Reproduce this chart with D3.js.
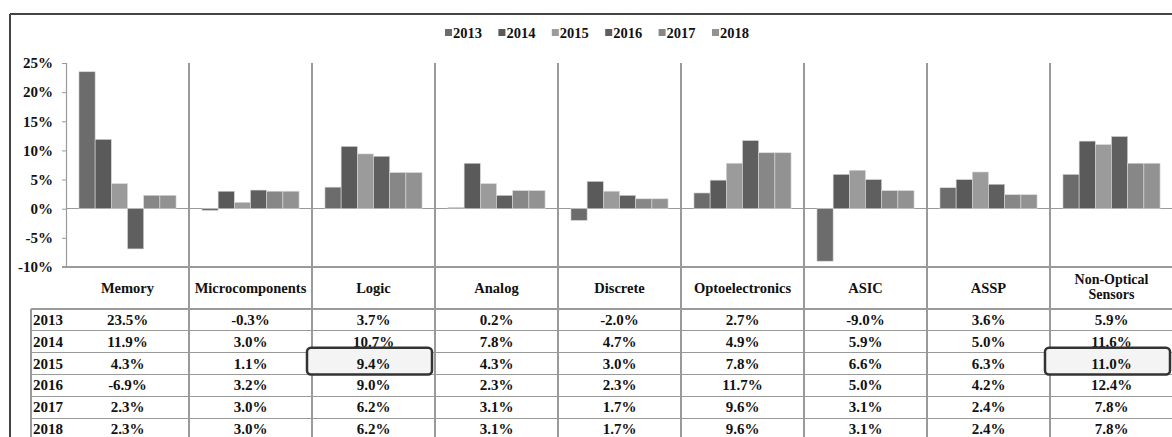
<!DOCTYPE html>
<html lang="en">
<head>
<meta charset="UTF-8">
<script src="https://cdn.jsdelivr.net/npm/d3@7"></script>
<style>
    body { margin: 0; background: #fff; }
    svg text { font-family: "Liberation Serif", "DejaVu Serif", "Times New Roman", serif !important; font-weight: bold; fill: #111; }
    .ytick text { font-size: 15px; }
    .hdr { font-size: 14.5px; }
    .cell { font-size: 15px; }
    .grid { stroke: #9a9a9a; stroke-width: 1.2; shape-rendering: crispEdges; }
</style>
</head>
<body>
<svg width="1172" height="437"></svg>
<script>
var categories = ["Memory", "Microcomponents", "Logic", "Analog", "Discrete", "Optoelectronics", "ASIC", "ASSP", "Non-Optical Sensors"];
var years = ["2013", "2014", "2015", "2016", "2017", "2018"];
var v2013 = [23.5, -0.3, 3.7, 0.2, -2.0, 2.7, -9.0, 3.6, 5.9];
var v2014 = [11.9, 3.0, 10.7, 7.8, 4.7, 4.9, 5.9, 5.0, 11.6];
var v2015 = [4.3, 1.1, 9.4, 4.3, 3.0, 7.8, 6.6, 6.3, 11.0];
var v2016 = [-6.9, 3.2, 9.0, 2.3, 2.3, 11.7, 5.0, 4.2, 12.4];
var v2017 = [2.3, 3.0, 6.2, 3.1, 1.7, 9.6, 3.1, 2.4, 7.8];
var v2018 = [2.3, 3.0, 6.2, 3.1, 1.7, 9.6, 3.1, 2.4, 7.8];
var yTicks = [-10, -5, 0, 5, 10, 15, 20, 25];
var colors = ["#6c6c6c", "#5a5a5a", "#9b9b9b", "#5f5f5f", "#878787", "#929292"];
var highlights = [{cat: "Logic", year: "2015"}, {cat: "Non-Optical Sensors", year: "2015"}];

var series = [v2013, v2014, v2015, v2016, v2017, v2018];
var svg = d3.select("svg");

// frame
svg.append("line").attr("x1", 10).attr("x2", 1172).attr("y1", 14).attr("y2", 14)
    .attr("stroke", "#444").attr("stroke-width", 2);
svg.append("line").attr("x1", 10).attr("x2", 10).attr("y1", 14).attr("y2", 437)
    .attr("stroke", "#444").attr("stroke-width", 2);

var x0 = d3.scaleBand().domain(categories).range([66, 1173]);
var x1 = d3.scaleBand().domain(years).range([0, x0.bandwidth()]).paddingOuter(0.8);
var y = d3.scaleLinear().domain([-10, 25]).range([267, 63]);
var rows = d3.scaleBand().domain(years).range([309, 440]);

// legend
var leg = svg.append("g").selectAll("g").data(years).enter().append("g")
    .attr("transform", function(d, i) { return "translate(" + (445 + i * 53.4) + ",33)"; });
leg.append("rect").attr("x", 0).attr("y", -4).attr("width", 7).attr("height", 7)
    .attr("fill", function(d, i) { return colors[i]; });
leg.append("text").attr("x", 8).attr("y", 5).style("font-size", "14.5px").text(function(d) { return d; });

// y axis
var yAxis = svg.append("g").attr("class", "ytick")
    .attr("transform", "translate(66,0)")
    .call(d3.axisLeft(y).tickValues(yTicks).tickSize(4).tickFormat(function(d) { return d + "%"; }));
yAxis.attr("font-family", null).attr("font-size", null);
yAxis.select(".domain").attr("stroke", "#9a9a9a").attr("stroke-width", 1.2);
yAxis.selectAll(".tick line").attr("stroke", "#9a9a9a");
yAxis.selectAll(".tick text").attr("x", -13).attr("fill", "#111");

// gridlines
svg.append("line").attr("class", "grid").attr("x1", 66).attr("x2", 1172).attr("y1", y(0)).attr("y2", y(0));
svg.append("line").attr("class", "grid").attr("x1", 62).attr("x2", 1172).attr("y1", y(-10)).attr("y2", y(-10));
svg.append("g").selectAll("line").data(categories).enter().append("line")
    .attr("class", "grid")
    .attr("x1", function(d) { return x0(d) + x0.bandwidth(); })
    .attr("x2", function(d) { return x0(d) + x0.bandwidth(); })
    .attr("y1", y(25)).attr("y2", 437);

// bars
var groups = svg.append("g").selectAll("g").data(categories).enter().append("g")
    .attr("transform", function(d) { return "translate(" + x0(d) + ",0)"; });
groups.selectAll("rect")
    .data(function(d, ci) { return years.map(function(yr, si) { return {year: yr, si: si, v: series[si][ci]}; }); })
    .enter().append("rect")
    .attr("x", function(d) { return x1(d.year); })
    .attr("width", x1.bandwidth())
    .attr("y", function(d) { return y(Math.max(0, d.v)); })
    .attr("height", function(d) { return Math.abs(y(d.v) - y(0)); })
    .attr("fill", function(d) { return colors[d.si]; })
    .attr("stroke", "#d8d8d8").attr("stroke-width", 0.6);

// table header
var hdr = svg.append("g").selectAll("text").data(categories).enter().append("text")
    .attr("class", "hdr")
    .attr("text-anchor", "middle")
    .attr("x", function(d) { return x0(d) + x0.bandwidth() / 2; })
    .attr("y", function(d) { return d === "Non-Optical Sensors" ? 284 : 293; });
hdr.each(function(d) {
    var t = d3.select(this);
    if (d === "Non-Optical Sensors") {
        t.style("font-size", "14px");
        t.append("tspan").attr("x", t.attr("x")).text("Non-Optical");
        t.append("tspan").attr("x", t.attr("x")).attr("dy", 15).text("Sensors");
    } else {
        t.text(d);
    }
});

// table rows
svg.append("g").selectAll("line").data(years).enter().append("line")
    .attr("class", "grid")
    .attr("x1", 31).attr("x2", 1172)
    .attr("y1", function(d) { return rows(d); }).attr("y2", function(d) { return rows(d); });
svg.append("line").attr("class", "grid").attr("x1", 31).attr("x2", 31).attr("y1", rows("2013")).attr("y2", 437);
svg.append("g").selectAll("text").data(years).enter().append("text")
    .attr("class", "cell")
    .attr("x", 33)
    .attr("y", function(d) { return rows(d) + rows.bandwidth() / 2 + 5; })
    .text(function(d) { return d; });

var cells = [];
years.forEach(function(yr, si) {
    categories.forEach(function(c, ci) { cells.push({year: yr, cat: c, v: series[si][ci]}); });
});
function cellText(sel) {
    sel.attr("class", "cell")
        .attr("text-anchor", "middle")
        .attr("x", function(d) { return x0(d.cat) + x0.bandwidth() / 2; })
        .attr("y", function(d) { return rows(d.year) + rows.bandwidth() / 2 + 5; })
        .text(function(d) { return d.v.toFixed(1) + "%"; });
}
svg.append("g").selectAll("text").data(cells).enter().append("text").call(cellText);

// highlighted cells
var hl = svg.append("g").selectAll("g").data(highlights).enter().append("g");
hl.append("rect")
    .attr("x", function(d) { return x0(d.cat) - 5; })
    .attr("y", function(d) { return rows(d.year) - 5; })
    .attr("width", x0.bandwidth() + 2)
    .attr("height", rows.bandwidth() + 5)
    .attr("rx", 4)
    .attr("fill", "#f4f4f4")
    .attr("stroke", "#333").attr("stroke-width", 2.5);
hl.append("text")
    .datum(function(d) {
        var si = years.indexOf(d.year), ci = categories.indexOf(d.cat);
        return {year: d.year, cat: d.cat, v: series[si][ci]};
    })
    .call(cellText);
</script>
</body>
</html>
